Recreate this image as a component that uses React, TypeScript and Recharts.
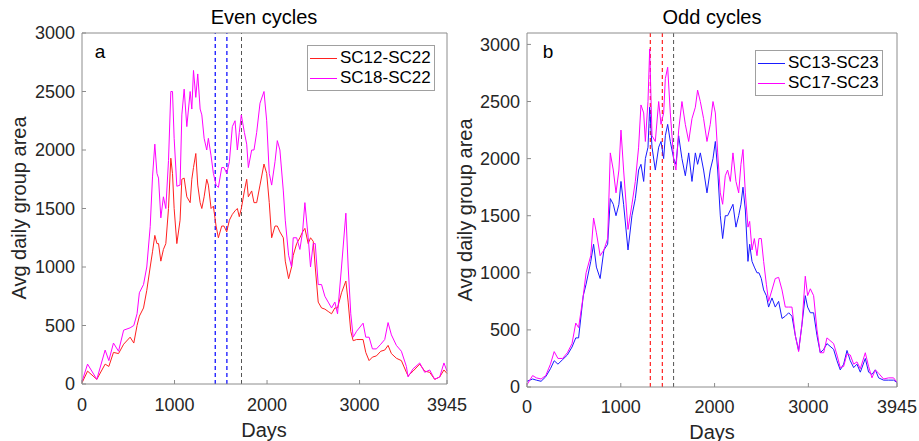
import { LineChart, Line, XAxis, YAxis, ReferenceLine, Legend } from "recharts";

const FONT = "'Liberation Sans', Arial, Helvetica, sans-serif";

const xTicks = [0, 1000, 2000, 3000, 3945];
const yTicks = [0, 500, 1000, 1500, 2000, 2500, 3000];

// panel a: even cycles
const evenDays = [
  0, 60, 160, 250, 290, 340, 395, 450, 520, 560, 595, 620, 665, 700, 737, 762, 787, 810, 827, 852,
  880, 906, 935, 960, 978, 996, 1025, 1060, 1079, 1104, 1133, 1169, 1187, 1205, 1230, 1251, 1277, 1295, 1320, 1348,
  1366, 1395, 1420, 1449, 1474, 1510, 1535, 1564, 1593, 1625, 1654, 1679, 1700, 1722, 1755, 1780, 1798, 1834, 1859, 1888,
  1924, 1967, 1996, 2024, 2050, 2086, 2111, 2139, 2176, 2197, 2233, 2265, 2283, 2320, 2355, 2384, 2409, 2445, 2470, 2499,
  2521, 2553, 2589, 2625, 2661, 2697, 2733, 2762, 2805, 2852, 2877, 2905, 2931, 2967, 3038, 3067, 3103, 3139, 3182, 3229,
  3272, 3308, 3344, 3398, 3452, 3506, 3524, 3578, 3650, 3704, 3758, 3812, 3866, 3912, 3945,
];
const sc12 = [
  10, 110, 40, 170, 150, 270, 260, 340, 400, 350, 500, 580, 650, 800, 1000, 1130, 1270, 1200, 1200, 1050,
  1150, 1200, 1500, 1930, 1800, 1500, 1200, 1400, 1750, 1760, 1600, 1550, 1750, 1850, 1970, 1700, 1550, 1500, 1600, 1750,
  1700, 1500, 1520, 1350, 1250, 1350, 1350, 1300, 1400, 1450, 1480, 1500, 1430, 1500, 1650, 1750, 1600, 1650, 1550, 1550,
  1700, 1880, 1800, 1550, 1250, 1350, 1350, 1300, 1250, 1050, 900, 1000, 1100, 1200, 1250, 1300, 1330, 1200, 1250, 1220,
  1000, 700, 650, 640, 620, 600, 650, 650, 780, 880, 700, 450, 370, 380, 380, 270, 200, 230, 240, 280,
  290, 330, 260, 220, 200, 100, 70, 110, 170, 110, 100, 40, 60, 120, 90,
];
const sc18 = [
  20, 170, 40, 290, 200, 350, 280, 460, 480, 500, 600, 780, 850, 1000, 1345, 1770, 2050, 1800, 1760, 1420,
  1600, 1500, 1910, 2500, 2500, 2100, 1690, 1700, 2300, 2520, 2200, 2500, 2350, 2680, 2450, 2650, 2350, 2300, 2100, 2000,
  2100, 1950, 1800, 1700, 1680, 1850, 1850, 1800, 1900, 2200, 2250, 2000, 2150, 2300, 2150, 2050, 1850, 2000, 2000, 2150,
  2400, 2500, 2250, 1800, 1700, 1900, 2080, 2000, 1650, 1400, 1100, 1000, 1250, 1250, 1150, 1300, 1550, 1250, 1000, 1200,
  1200, 850, 850, 750, 700, 650, 700, 600, 1000, 1460, 1000, 600, 400, 450, 520, 400, 400, 300, 300, 340,
  380, 525, 420, 330, 280, 150, 60, 130, 180, 100, 120, 40, 60, 180, 110,
];
const evenMarks = [1440, 1566];
const evenRef = 1724;

// panel b: odd cycles
const oddDays = [
  0, 60, 100, 150, 200, 250, 290, 330, 380, 430, 480, 520, 550, 600, 630, 680, 710, 740, 780, 820,
  860, 888, 920, 949, 980, 1002, 1030, 1077, 1119, 1155, 1190, 1215, 1244, 1262, 1290, 1308, 1333, 1368, 1404, 1429,
  1457, 1475, 1500, 1528, 1564, 1588, 1617, 1652, 1688, 1724, 1759, 1795, 1819, 1848, 1883, 1919, 1954, 1983, 2008, 2033,
  2061, 2086, 2114, 2139, 2168, 2196, 2228, 2257, 2281, 2303, 2328, 2356, 2374, 2399, 2424, 2452, 2473, 2498, 2523, 2552,
  2576, 2612, 2647, 2683, 2719, 2754, 2790, 2825, 2861, 2896, 2932, 2967, 2992, 3021, 3056, 3092, 3127, 3163, 3198, 3241,
  3269, 3305, 3340, 3376, 3412, 3447, 3483, 3518, 3554, 3607, 3642, 3678, 3714, 3749, 3802, 3856, 3909, 3945,
];
const sc13 = [
  50, 70, 60, 50, 90, 160, 230, 200, 240, 280, 350, 430, 430, 800, 900, 1100, 1250, 1050, 950, 1200,
  1250, 1650, 1600, 1500, 1600, 1800, 1600, 1200, 1500, 1650, 1900, 1950, 1800, 2000, 2100, 2450, 2100, 1900, 2100, 2150,
  2000, 2200, 2300, 2150, 2000, 1950, 2200, 2000, 1850, 2050, 1800, 2050, 1950, 2050, 1900, 1700, 1900, 2000, 2150, 1900,
  1500, 1300, 1500, 1500, 1550, 1600, 1400, 1500, 1600, 1750, 1550, 1100, 1250, 1100, 1050, 1000, 1000, 950, 850, 800,
  700, 780, 700, 750, 600, 620, 650, 620, 450, 320, 550, 800, 700, 650, 650, 450, 300, 330, 380, 350,
  330, 230, 150, 200, 320, 230, 170, 200, 130, 250, 130, 110, 150, 80, 60, 60, 60, 40,
];
const sc17 = [
  20, 100, 80, 70, 100, 200, 310, 250, 250, 300, 380, 560, 520, 800, 1000, 1150, 1480, 1350, 1150, 1200,
  1300, 2050, 1900, 1700, 1900, 2250, 1900, 1380, 1600, 1800, 2100, 2470, 2400, 2150, 2500, 2960, 2200, 2150, 2500, 2300,
  2400, 2700, 2800, 2400, 2000, 1900, 2250, 2500, 2300, 2150, 2350, 2450, 2600, 2500, 2350, 2150, 2300, 2500, 2400, 2050,
  1700, 1600, 1850, 1900, 1800, 2050, 1800, 1700, 1950, 2080, 1700, 1400, 1450, 1200, 1300, 1150, 1300, 1300, 1100, 900,
  750, 850, 950, 960, 850, 700, 700, 700, 450, 310, 550, 970, 800, 860, 800, 500, 300, 300, 430, 400,
  380, 280, 170, 180, 290, 280, 200, 220, 160, 300, 180, 80, 150, 120, 70, 80, 80, 40,
];
const oddMarks = [1315, 1443];
const oddRef = 1563;

const evenData = evenDays.map((d, i) => ({ day: d, a: sc12[i], b: sc18[i] }));
const oddData = oddDays.map((d, i) => ({ day: d, a: sc13[i], b: sc17[i] }));

const AXIS = "#8c8c8c";
const TXT = "#262626";

function LegendBox({ payload }: any) {
  return (
    <div
      style={{
        border: "1px solid #a0a0a0",
        background: "#fff",
        padding: "2px 3px 2px 2px",
        fontFamily: FONT,
        fontSize: 17,
        color: "#000",
        lineHeight: "20px",
      }}
    >
      {(payload || []).map((p: any) => (
        <div key={p.value} style={{ display: "flex", alignItems: "center" }}>
          <span style={{ width: 27, height: 1, background: p.color, marginRight: 3 }} />
          <span>{p.value}</span>
        </div>
      ))}
    </div>
  );
}

function Panel(props: any) {
  const { data, width, margin, yMax, names, colors, marks, markColor, refDay, legendPos, tickGap } = props;
  return (
    <LineChart width={width} height={441} data={data} margin={margin} style={{ overflow: "visible" }}>
      <XAxis
        dataKey="day"
        type="number"
        domain={[0, 3945]}
        ticks={xTicks}
        interval={0}
        height={1}
        tickSize={-4}
        tickMargin={tickGap}
        stroke={AXIS}
        tick={{ fill: TXT, fontSize: 18, fontFamily: FONT }}
      />
      <XAxis
        xAxisId="top"
        orientation="top"
        dataKey="day"
        type="number"
        domain={[0, 3945]}
        ticks={xTicks}
        interval={0}
        height={1}
        tickSize={-4}
        stroke={AXIS}
        tick={false}
      />
      <YAxis
        type="number"
        domain={[0, yMax]}
        ticks={yTicks}
        interval={0}
        width={1}
        tickSize={-4}
        tickMargin={11}
        stroke={AXIS}
        allowDataOverflow
        tick={{ fill: TXT, fontSize: 18, fontFamily: FONT }}
      />
      <YAxis
        yAxisId="right"
        orientation="right"
        type="number"
        domain={[0, yMax]}
        ticks={yTicks}
        interval={0}
        width={1}
        tickSize={-4}
        stroke={AXIS}
        allowDataOverflow
        tick={false}
      />
      {marks.map((m: number) => (
        <ReferenceLine key={m} x={m} stroke={markColor} strokeDasharray="4 3" strokeWidth={1.2} />
      ))}
      <ReferenceLine x={refDay} stroke="#555" strokeDasharray="4 3" strokeWidth={1} />
      <Line type="linear" dataKey="a" name={names[0]} stroke={colors[0]} strokeWidth={1} dot={false} isAnimationActive={false} />
      <Line type="linear" dataKey="b" name={names[1]} stroke={colors[1]} strokeWidth={1} dot={false} isAnimationActive={false} />
      <Legend
        layout="vertical"
        align="center"
        verticalAlign="middle"
        content={<LegendBox />}
        wrapperStyle={{ position: "absolute", left: legendPos[0], top: legendPos[1], width: "auto", height: "auto" }}
      />
    </LineChart>
  );
}

const textStyle: any = { position: "absolute", fontFamily: FONT, whiteSpace: "nowrap", transform: "translate(-50%, -50%)" };

export default function App() {
  return (
    <div style={{ position: "absolute", left: 0, top: 0, width: 919, height: 441, background: "#fff", overflow: "hidden" }}>
      <div style={{ position: "absolute", left: 0, top: 0 }}>
        <Panel
          data={evenData}
          width={470}
          margin={{ top: 32, right: 22, bottom: 56, left: 81 }}
          yMax={3000}
          names={["SC12-SC22", "SC18-SC22"]}
          colors={["#ff2020", "#ff00ff"]}
          marks={evenMarks}
          markColor="#0000ff"
          refDay={evenRef}
          legendPos={[307, 45]}
          tickGap={18}
        />
      </div>
      <div style={{ position: "absolute", left: 470, top: 0 }}>
        <Panel
          data={oddData}
          width={449}
          margin={{ top: 32, right: 21, bottom: 53, left: 56 }}
          yMax={3100}
          names={["SC13-SC23", "SC17-SC23"]}
          colors={["#1a1aff", "#ff00ff"]}
          marks={oddMarks}
          markColor="#ff2020"
          refDay={oddRef}
          legendPos={[285, 50]}
          tickGap={17}
        />
      </div>

      <div style={{ ...textStyle, left: 264, top: 17, fontSize: 20, color: "#000" }}>Even cycles</div>
      <div style={{ ...textStyle, left: 712, top: 17, fontSize: 20, color: "#000" }}>Odd cycles</div>
      <div style={{ ...textStyle, left: 264, top: 430, fontSize: 20, color: TXT }}>Days</div>
      <div style={{ ...textStyle, left: 712, top: 432, fontSize: 20, color: TXT }}>Days</div>
      <div style={{ ...textStyle, left: 19, top: 208, fontSize: 20, color: TXT, transform: "translate(-50%, -50%) rotate(-90deg)" }}>
        Avg daily group area
      </div>
      <div style={{ ...textStyle, left: 465, top: 210, fontSize: 20, color: TXT, transform: "translate(-50%, -50%) rotate(-90deg)" }}>
        Avg daily group area
      </div>
      <div style={{ ...textStyle, left: 100, top: 52, fontSize: 19, color: "#000" }}>a</div>
      <div style={{ ...textStyle, left: 548, top: 52, fontSize: 19, color: "#000" }}>b</div>
    </div>
  );
}
